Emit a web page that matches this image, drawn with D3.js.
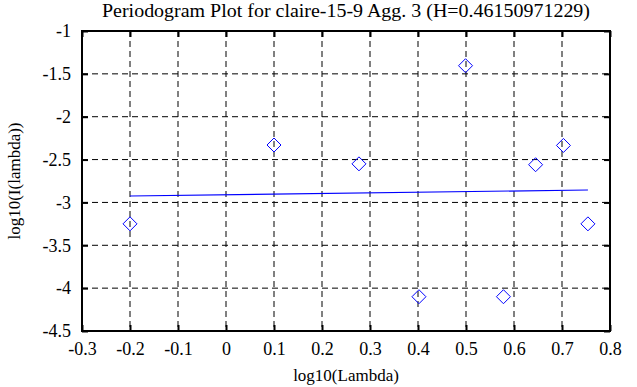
<!DOCTYPE html>
<html>
<head>
<meta charset="utf-8">
<style>
  body { margin: 0; background: #fff; }
  svg { display: block; }
  text { font-family: "Liberation Serif", "DejaVu Serif", serif; fill: #000; }
</style>
</head>
<body>
<div id="chart"></div>
<script src="https://cdn.jsdelivr.net/npm/d3@7"></script>
<script>
var width = 637, height = 387;
var margin = {top: 31, right: 27, bottom: 56, left: 82};

// periodogram points (log10 lambda, log10 I(lambda))
var logLambda = [-0.2, 0.1, 0.277, 0.402, 0.499, 0.578, 0.645, 0.703, 0.754];
var logI = [-3.25, -2.33, -2.55, -4.1, -1.405, -4.1, -2.56, -2.335, -3.25];

// fitted line end points
var fitX = [-0.2, 0.754];
var fitY = [-2.925, -2.855];

var xTicks = [-0.3, -0.2, -0.1, 0, 0.1, 0.2, 0.3, 0.4, 0.5, 0.6, 0.7, 0.8];
var yTicks = [-1, -1.5, -2, -2.5, -3, -3.5, -4, -4.5];

var title = 'Periodogram Plot for claire-15-9 Agg. 3 (H=0.46150971229)';
var serif = '"Liberation Serif", "DejaVu Serif", serif';

var svg = d3.select('#chart').append('svg')
    .attr('width', width)
    .attr('height', height);

var iw = width - margin.left - margin.right,
    ih = height - margin.top - margin.bottom;

var g = svg.append('g')
    .attr('transform', 'translate(' + margin.left + ',' + margin.top + ')');

var x = d3.scaleLinear().domain([-0.3, 0.8]).range([0, iw]);
var y = d3.scaleLinear().domain([-4.5, -1]).range([ih, 0]);

// dashed grid
g.selectAll('.vgrid')
    .data(xTicks.slice(1, -1))
    .enter().append('line')
    .attr('x1', d => x(d)).attr('x2', d => x(d))
    .attr('y1', 0).attr('y2', ih)
    .attr('stroke', '#000')
    .attr('stroke-width', 1)
    .attr('stroke-dasharray', '6,4');

g.selectAll('.hgrid')
    .data(yTicks.slice(1, -1))
    .enter().append('line')
    .attr('x1', 0).attr('x2', iw)
    .attr('y1', d => y(d)).attr('y2', d => y(d))
    .attr('stroke', '#000')
    .attr('stroke-width', 1)
    .attr('stroke-dasharray', '6,4');

// axes with inward ticks
var fmt = d => String(d);

var xb = g.append('g').attr('transform', 'translate(0,' + ih + ')')
    .call(d3.axisBottom(x).tickValues(xTicks).tickFormat(fmt).tickSizeInner(-6).tickSizeOuter(0).tickPadding(11));
var xt = g.append('g')
    .call(d3.axisTop(x).tickValues(xTicks).tickFormat('').tickSizeInner(-6).tickSizeOuter(0));
var yl = g.append('g')
    .call(d3.axisLeft(y).tickValues(yTicks).tickFormat(fmt).tickSizeInner(-6).tickSizeOuter(0).tickPadding(11));
var yr = g.append('g').attr('transform', 'translate(' + iw + ',0)')
    .call(d3.axisRight(y).tickValues(yTicks).tickFormat('').tickSizeInner(-6).tickSizeOuter(0));

[xb, xt, yl, yr].forEach(function(a) {
    a.attr('font-family', serif).attr('font-size', 18);
    a.select('.domain').remove();
    a.selectAll('line').attr('stroke', '#000').attr('stroke-width', 2);
    a.selectAll('text')
        .attr('fill', '#000')
        .style('font-family', serif)
        .style('font-size', '18px');
});

// frame
g.append('rect')
    .attr('x', 0).attr('y', 0)
    .attr('width', iw).attr('height', ih)
    .attr('fill', 'none')
    .attr('stroke', '#000')
    .attr('stroke-width', 2);

// fit line
g.append('line')
    .attr('x1', x(fitX[0])).attr('y1', y(fitY[0]))
    .attr('x2', x(fitX[1])).attr('y2', y(fitY[1]))
    .attr('stroke', '#0000ff')
    .attr('stroke-width', 1.2);

// diamonds
var pts = logLambda.map((d, i) => [d, logI[i]]);
var r = 7;
g.selectAll('.pt')
    .data(pts)
    .enter().append('path')
    .attr('d', function(d) {
        var cx = x(d[0]), cy = y(d[1]);
        return 'M' + cx + ',' + (cy - r) + 'L' + (cx + r) + ',' + cy +
            'L' + cx + ',' + (cy + r) + 'L' + (cx - r) + ',' + cy + 'Z';
    })
    .attr('fill', 'none')
    .attr('stroke', '#0000ff')
    .attr('stroke-width', 1);

// titles
svg.append('text')
    .attr('x', margin.left + iw / 2)
    .attr('y', 17)
    .attr('text-anchor', 'middle')
    .attr('font-family', serif)
    .attr('font-size', 18)
    .attr('textLength', 488)
    .attr('lengthAdjust', 'spacingAndGlyphs')
    .text(title);

svg.append('text')
    .attr('x', margin.left + iw / 2)
    .attr('y', 381)
    .attr('text-anchor', 'middle')
    .attr('font-family', serif)
    .attr('font-size', 17)
    .text('log10(Lambda)');

svg.append('text')
    .attr('transform', 'translate(20,' + (margin.top + ih / 2) + ') rotate(-90)')
    .attr('text-anchor', 'middle')
    .attr('font-family', serif)
    .attr('font-size', 17)
    .text('log10(I(lambda))');
</script>
</body>
</html>
